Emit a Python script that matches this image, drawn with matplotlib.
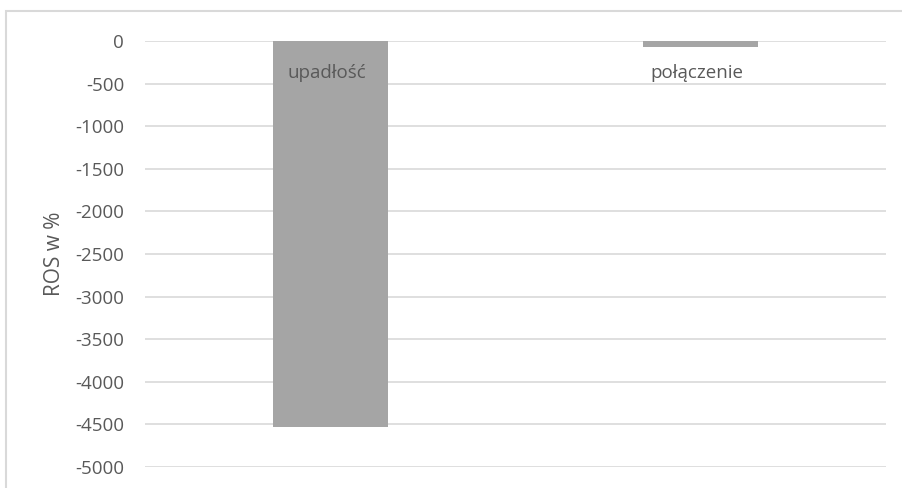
"""ROS w % for upadłość vs połączenie, Excel-style bar chart."""

import matplotlib

matplotlib.use("Agg")
import matplotlib.pyplot as plt
from matplotlib.patches import Rectangle

categories = ["upadłość", "połączenie"]
ros_values = [-4530, -65]
y_ticks = [0, -500, -1000, -1500, -2000, -2500, -3000, -3500, -4000, -4500, -5000]

plt.rcParams["font.family"] = ["Liberation Sans Narrow", "Open Sans", "DejaVu Sans"]

TEXT = "#595959"
GRID = "#d9d9d9"

fig = plt.figure(figsize=(9.03, 4.88), dpi=100)

# chart frame, clipped on the right and bottom like the screenshot
fig.patches.append(
    Rectangle((6 / 903, -0.1), 1.0, 1 - 11 / 488 + 0.1, transform=fig.transFigure,
              fill=False, edgecolor=GRID, linewidth=1.5)
)

ax = fig.add_axes([145 / 903, 1 - 467 / 488, (886 - 145) / 903, (467 - 41) / 488])
x = range(len(categories))
ax.bar(x, ros_values, width=0.31, color="#a5a5a5", zorder=3)

ax.set_xlim(-0.5, len(categories) - 0.5)
ax.set_ylim(-5000, 0)
ax.set_yticks(y_ticks)
ax.set_yticklabels([str(v) for v in y_ticks], color=TEXT, fontsize=13.5)
ax.tick_params(axis="y", length=0, pad=15)
ax.set_xticks([])
ax.grid(axis="y", color=GRID, linewidth=1.2, zorder=0)
for spine in ax.spines.values():
    spine.set_visible(False)

for i, name in enumerate(categories):
    ax.text(i - 0.01, -370, name, ha="center", va="center", color=TEXT, fontsize=13.5, zorder=4)

ax.set_ylabel("ROS w %", color=TEXT, fontsize=15, labelpad=7)

fig.savefig("out.png", dpi=100)
